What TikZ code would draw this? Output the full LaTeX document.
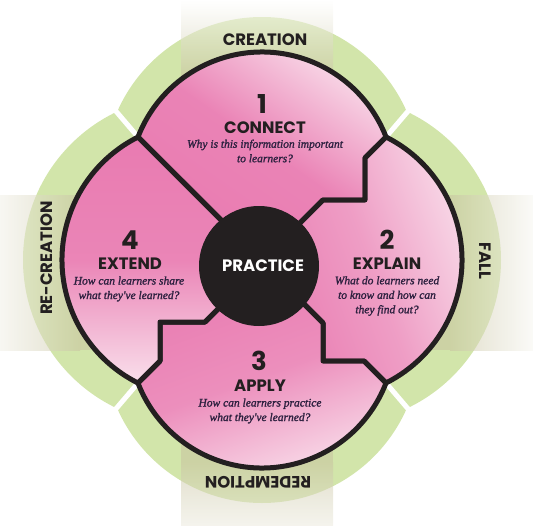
\documentclass[tikz,border=0pt]{standalone}
\usepackage{fontspec}
\newfontfamily\pop{Poppins}
\newfontfamily\serq{Liberation Serif Italic}[FakeBold=1.5]
\definecolor{pd}{HTML}{E97BB1}
\definecolor{pl}{HTML}{F9DFEB}
\definecolor{ink}{HTML}{231F20}
\definecolor{lgreen}{HTML}{D2E5AA}
\definecolor{tanc}{HTML}{C8C3A0}
\definecolor{qcol}{HTML}{2E2140}
\tikzset{
 petal/.style={draw=ink, line width=5pt, line join=round},
 gap/.style={white, line width=5pt},
 band/.style={fill opacity=0.55},
 num/.style={font=\pop\bfseries\fontsize{26}{28}\selectfont, text=ink, inner sep=0pt},
 ttl/.style={font=\pop\bfseries\fontsize{16.5}{18}\selectfont, text=ink, inner sep=0pt},
 qst/.style={font=\serq\fontsize{11.5}{14.5}\selectfont, text=qcol, align=center, inner sep=0pt},
 ring/.style={font=\pop\bfseries\fontsize{16.5}{18}\selectfont, text=ink, inner sep=0pt},
}
\begin{document}
\begin{tikzpicture}[x=1pt,y=-1pt]
\useasboundingbox (0,0) rectangle (533,525);
% junctions
\coordinate (TL) at (138,137);
\coordinate (TR) at (386,137);
\coordinate (BL) at (138,383);
\coordinate (BR) at (386,383);
% green lobes
\fill[lgreen] (262,175) circle[radius=158];
\fill[lgreen] (262,345) circle[radius=158];
\fill[lgreen] (187,260) circle[radius=164];
\fill[lgreen] (337,260) circle[radius=164];
% tan bands
\shade[band, left color=tanc!25, right color=tanc] (0,195) rectangle (80,350);
\fill[band, tanc] (80,195) rectangle (450,350);
\shade[band, left color=tanc, right color=tanc!15] (450,195) rectangle (533,350);
\shade[band, top color=white, bottom color=tanc] (181,0) rectangle (333,75);
\fill[band, tanc] (181,75) rectangle (333,462);
\shade[band, top color=tanc, bottom color=tanc!35] (181,462) rectangle (333,525);
% gaps
\coordinate (gTL) at (103,96);
\coordinate (gTR) at (421,96);
\coordinate (gBL) at (103,424);
\coordinate (gBR) at (421,424);
\draw[gap] (TL) -- (gTL);
\draw[gap] (TR) -- (gTR);
\draw[gap] (BL) -- (gBL);
\draw[gap] (BR) -- (gBR);
% petals
\shade[petal, left color=pl, right color=pd, middle color=pd!92!pl, shading angle=-35]
  (TL) arc[start angle=-158.84, end angle=-21.16, radius=133]
  -- (365,158) -- (365,200) -- (323,200) -- (290,233) -- (259,258) -- cycle;
\shade[petal, left color=pl, right color=pd, middle color=pd!65!pl, shading angle=-70]
  (TR) arc[start angle=-63.43, end angle=63.43, radius=137.5]
  -- (364,361) -- (323,361) -- (323,323) -- (290,290) -- (259,266)
  -- (290,233) -- (323,200) -- (365,200) -- (365,158) -- cycle;
\shade[petal, left color=pd, right color=pl, middle color=pd!80!pl, shading angle=20]
  (BR) arc[start angle=21.16, end angle=158.84, radius=133]
  -- (160,361) -- (160,322) -- (205,322) -- (235,292) -- (259,266)
  -- (290,290) -- (323,323) -- (323,361) -- (364,361) -- cycle;
\shade[petal, top color=pd, bottom color=pl, middle color=pd!90!pl]
  (BL) arc[start angle=116.57, end angle=243.43, radius=137.5]
  -- (245,244) -- (259,266) -- (235,292) -- (205,322) -- (160,322) -- (160,361) -- cycle;
% core
\node[circle, fill=ink, minimum size=120pt, inner sep=0pt] (core) at (259,266) {};
\node[ttl, text=white] (pr) at (263,266) {PRACTICE};
% petal texts
\node[num] (n1) at (262,104) {1};
\node[ttl] (t1) at (265,128) {CONNECT};
\node[qst] (q1) at (265,151) {Why is this information important\\to learners?};
\node[num] (n2) at (387,240) {2};
\node[ttl] (t2) at (387,264) {EXPLAIN};
\node[qst] (q2) at (387,296) {What do learners need\\to know and how can\\they find out?};
\node[num] (n3) at (259,361) {3};
\node[ttl] (t3) at (260,386) {APPLY};
\node[qst] (q3) at (260,411) {How can learners practice\\what they've learned?};
\node[num] (n4) at (130,240) {4};
\node[ttl] (t4) at (130,264) {EXTEND};
\node[qst] (q4) at (129,289) {How can learners share\\what they've learned?};
% ring labels
\node[ring] (rcr) at (265,40) {CREATION};
\node[ring, rotate=-90] (rfa) at (485,261) {FALL};
\node[ring, rotate=180] (rre) at (258,482) {REDEMPTION};
\node[ring, rotate=90] (rrc) at (47,258) {RE-CREATION};
\end{tikzpicture}
\end{document}
